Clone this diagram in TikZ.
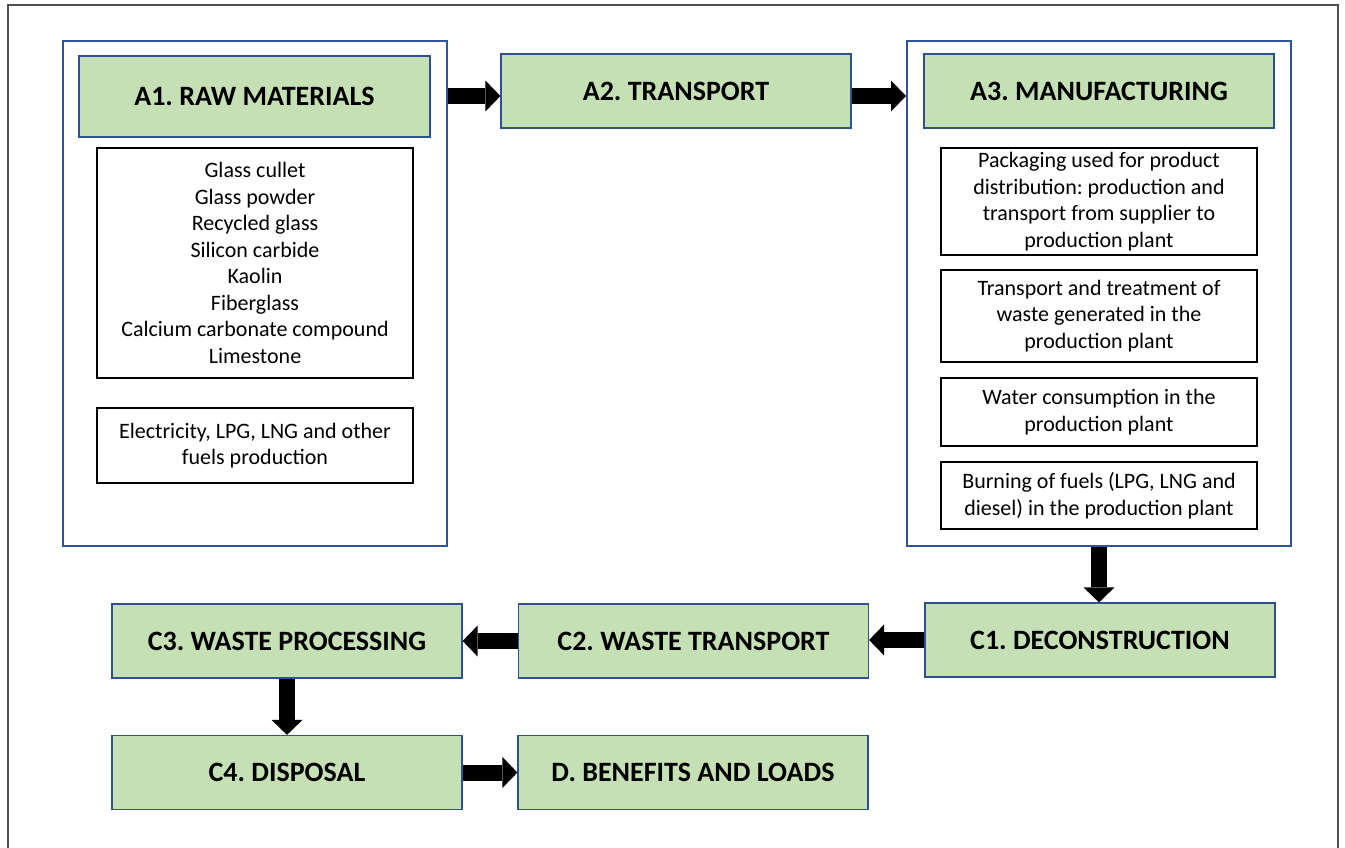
\documentclass[tikz,border=0pt]{standalone}
\usepackage{fontspec}
\setmainfont{Carlito}
\usetikzlibrary{arrows.meta}
\definecolor{hgreen}{HTML}{C5E0B4}
\definecolor{hblue}{HTML}{2F528F}
\definecolor{oblue}{HTML}{2F5597}
\definecolor{framegray}{HTML}{505050}
\frenchspacing
\begin{document}
\begin{tikzpicture}[x=1pt,y=-1pt,
  stage/.style={draw=hblue, line width=1.2pt, fill=hgreen, minimum width=350pt, minimum height=74pt, inner sep=0pt, font=\fontsize{28}{33}\selectfont\bfseries},
  group/.style={draw=oblue, line width=2pt, minimum width=384pt, minimum height=505pt, inner sep=0pt},
  item/.style={draw=black, line width=1.3pt, minimum width=316pt, inner sep=0pt, align=center, font=\fontsize{22}{26.5}\selectfont},
  flow/.style={black, line width=16pt, -{Triangle[length=15pt 0 0, width=31pt 0 0, line width=0pt]}}
]
\useasboundingbox (0,0) rectangle (1345,847);
\clip (0,0) rectangle (1345,847);
\draw[framegray, line width=2pt] (8,5) rectangle (1338,900);

\node[group] (a1box) at (255,293.5) {};
\node[stage, minimum width=351pt, minimum height=81pt] (a1) at (254.5,96.5) {A1. RAW MATERIALS};
\node[item, minimum height=230pt] (mat) at (255,263) {Glass cullet\\Glass powder\\Recycled glass\\Silicon carbide\\Kaolin\\Fiberglass\\Calcium carbonate compound\\Limestone};
\node[item, minimum height=75pt] (elec) at (255,445.5) {Electricity, LPG, LNG and other\\fuels production};

\node[stage] (a2) at (676,91) {A2. TRANSPORT};

\node[group] (a3box) at (1099,293.5) {};
\node[stage] (a3) at (1099,91) {A3. MANUFACTURING};
\node[item, minimum height=107pt] (m1) at (1099,201.5) {Packaging used for product\\distribution: production and\\transport from supplier to\\production plant};
\node[item, minimum height=92pt] (m2) at (1099,316) {Transport and treatment of\\waste generated in the\\production plant};
\node[item, minimum height=68pt] (m3) at (1099,412) {Water consumption in the\\production plant};
\node[item, minimum height=67pt] (m4) at (1099,495.5) {Burning of fuels (LPG, LNG and\\diesel) in the production plant};

\node[stage] (c1) at (1100,640) {C1. DECONSTRUCTION};
\node[stage] (c2) at (693.5,641) {C2. WASTE TRANSPORT};
\node[stage] (c3) at (287,641) {C3. WASTE PROCESSING};
\node[stage] (c4) at (287,772.5) {C4. DISPOSAL};
\node[stage] (d) at (693,772.5) {D. BENEFITS AND LOADS};

\coordinate (ya) at (0,96);
\draw[flow] (a1box.east |- ya) -- (a2.west |- ya);
\draw[flow] (a2.east |- ya) -- (a3box.west |- ya);
\draw[flow] (a3box.south) -- (a3box.south |- c1.north);
\draw[flow] (c1.west) -- (c1.west -| c2.east);
\draw[flow] (c2.west) -- (c2.west -| c3.east);
\draw[flow] (c3.south) -- (c4.north);
\draw[flow] (c4.east) -- (d.west);
\end{tikzpicture}
\end{document}
